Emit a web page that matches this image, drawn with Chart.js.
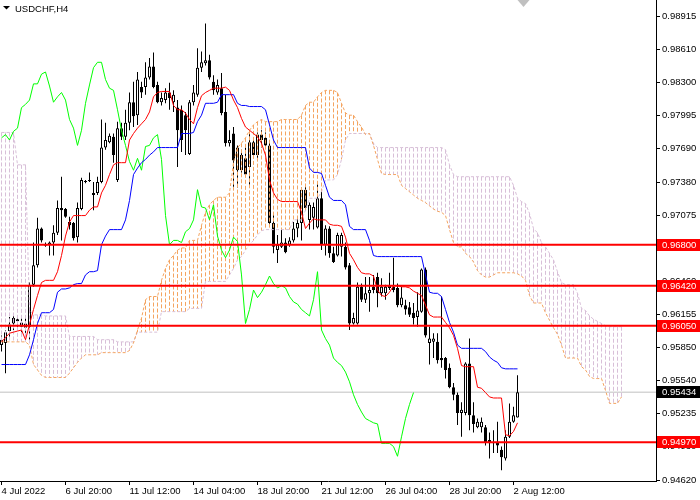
<!DOCTYPE html>
<html>
<head>
<meta charset="utf-8">
<title>USDCHF,H4</title>
<script src="https://cdn.jsdelivr.net/npm/chart.js@4.4.1/dist/chart.umd.min.js"></script>
<style>
  html, body { margin: 0; padding: 0; background: #ffffff; }
  canvas { display: block; }
</style>
</head>
<body>
<canvas id="chart" width="700" height="500"></canvas>
<script>
// --- datos (USDCHF, H4) ---
const symbolTitle = 'USDCHF,H4';

// etiquetas del eje X y la vela en la que cae cada una
const tickLabels = ['4 Jul 2022', '6 Jul 20:00', '11 Jul 12:00', '14 Jul 04:00', '18 Jul 20:00',
                    '21 Jul 12:00', '26 Jul 04:00', '28 Jul 20:00', '2 Aug 12:00'];
const tickBars = [0, 16, 32, 48, 64, 80, 96, 112, 128];

// etiquetas del eje de precios
const priceTicks = [0.98915, 0.98610, 0.98300, 0.97995, 0.97690, 0.97380, 0.97075, 0.96770,
                    0.96460, 0.96155, 0.95850, 0.95540, 0.95235, 0.94930, 0.94620];

// niveles horizontales (lineas rojas) y precio actual
const levels = [0.96800, 0.96420, 0.96050, 0.94970];
const bid = 0.95434;

// velas OHLC
const opens = [
  0.9587,0.9589,0.9600,0.9607,0.9609,0.9608,0.9607,0.9604,0.9643,0.9661,
  0.9695,0.9680,0.9680,0.9682,0.9691,0.9714,0.9713,0.9701,0.9700,0.9687,
  0.9713,0.9739,0.9739,0.9726,0.9728,0.9738,0.9770,0.9775,0.9780,0.9740,
  0.9788,0.9780,0.9793,0.9812,0.9800,0.9826,0.9826,0.9835,0.9845,0.9828,
  0.9812,0.9814,0.9821,0.9812,0.9807,0.9805,0.9800,0.9764,0.9812,0.9819,
  0.9844,0.9848,0.9851,0.9831,0.9821,0.9825,0.9803,0.9774,0.9783,0.9749,
  0.9749,0.9760,0.9752,0.9775,0.9763,0.9782,0.9779,0.9772,0.9700,0.9675,
  0.9678,0.9682,0.9680,0.9684,0.9695,0.9700,0.9731,0.9703,0.9705,0.9696,
  0.9723,0.9680,0.9695,0.9672,0.9670,0.9678,0.9678,0.9661,0.9607,0.9607,
  0.9641,0.9629,0.9635,0.9641,0.9650,0.9635,0.9635,0.9640,0.9641,0.9640,
  0.9624,0.9624,0.9622,0.9617,0.9613,0.9618,0.9657,0.9589,0.9590,0.9590,
  0.9575,0.9575,0.9566,0.9548,0.9541,0.9524,0.9524,0.9570,0.9522,0.9511,
  0.9511,0.9511,0.9499,0.9497,0.9497,0.9490,0.9482,0.9502,0.9516,0.9520
];
const highs = [
  0.9596,0.9601,0.9613,0.9615,0.9613,0.9612,0.9613,0.9645,0.9682,0.9705,
  0.9696,0.9682,0.9683,0.9698,0.9721,0.9743,0.9714,0.9706,0.9701,0.9719,
  0.9742,0.9740,0.9747,0.9738,0.9743,0.9796,0.9793,0.9783,0.9783,0.9794,
  0.9793,0.9805,0.9821,0.9831,0.9840,0.9831,0.9849,0.9853,0.9858,0.9831,
  0.9821,0.9825,0.9830,0.9823,0.9814,0.9809,0.9803,0.9814,0.9828,0.9862,
  0.9859,0.9885,0.9856,0.9837,0.9833,0.9839,0.9819,0.9786,0.9789,0.9772,
  0.9768,0.9770,0.9784,0.9779,0.9784,0.9786,0.9784,0.9777,0.9709,0.9689,
  0.9694,0.9686,0.9687,0.9701,0.9705,0.9733,0.9735,0.9719,0.9719,0.9737,
  0.9731,0.9698,0.9697,0.9678,0.9691,0.9691,0.9682,0.9663,0.9617,0.9645,
  0.9644,0.9650,0.9650,0.9652,0.9654,0.9649,0.9643,0.9654,0.9668,0.9644,
  0.9641,0.9629,0.9627,0.9626,0.9636,0.9658,0.9659,0.9604,0.9598,0.9598,
  0.9632,0.9576,0.9570,0.9552,0.9543,0.9534,0.9571,0.9593,0.9534,0.9519,
  0.9520,0.9513,0.9506,0.9508,0.9516,0.9493,0.9508,0.9533,0.9530,0.9559
];
const lows = [
  0.9581,0.9561,0.9592,0.9601,0.9603,0.9599,0.9598,0.9592,0.9641,0.9659,
  0.9682,0.9678,0.9670,0.9670,0.9689,0.9684,0.9705,0.9694,0.9684,0.9682,
  0.9712,0.9737,0.9738,0.9712,0.9726,0.9737,0.9768,0.9774,0.9756,0.9738,
  0.9777,0.9777,0.9786,0.9789,0.9791,0.9816,0.9819,0.9833,0.9825,0.9811,
  0.9809,0.9811,0.9805,0.9803,0.9752,0.9766,0.9763,0.9763,0.9809,0.9817,
  0.9840,0.9846,0.9833,0.9819,0.9819,0.9800,0.9771,0.9771,0.9733,0.9733,
  0.9747,0.9743,0.9733,0.9761,0.9760,0.9770,0.9770,0.9698,0.9672,0.9663,
  0.9677,0.9672,0.9678,0.9682,0.9687,0.9684,0.9712,0.9694,0.9694,0.9695,
  0.9675,0.9670,0.9668,0.9663,0.9669,0.9669,0.9657,0.9601,0.9606,0.9606,
  0.9627,0.9626,0.9618,0.9635,0.9622,0.9632,0.9629,0.9638,0.9636,0.9622,
  0.9622,0.9615,0.9613,0.9606,0.9604,0.9617,0.9594,0.9569,0.9575,0.9570,
  0.9566,0.9556,0.9547,0.9536,0.9513,0.9502,0.9522,0.9508,0.9506,0.9510,
  0.9506,0.9494,0.9482,0.9487,0.9487,0.9471,0.9480,0.9501,0.9515,0.9520
];
const closes = [
  0.9592,0.9599,0.9606,0.9612,0.9611,0.9604,0.9603,0.9643,0.9661,0.9695,
  0.9684,0.9679,0.9682,0.9691,0.9714,0.9712,0.9706,0.9698,0.9686,0.9714,
  0.9740,0.9738,0.9739,0.9728,0.9738,0.9770,0.9777,0.9781,0.9763,0.9788,
  0.9780,0.9793,0.9812,0.9799,0.9833,0.9821,0.9835,0.9845,0.9826,0.9812,
  0.9816,0.9821,0.9816,0.9819,0.9786,0.9777,0.9786,0.9812,0.9821,0.9844,
  0.9849,0.9851,0.9835,0.9823,0.9828,0.9802,0.9774,0.9777,0.9758,0.9770,
  0.9763,0.9745,0.9775,0.9763,0.9782,0.9777,0.9772,0.9700,0.9678,0.9680,
  0.9682,0.9673,0.9684,0.9695,0.9700,0.9731,0.9714,0.9717,0.9715,0.9723,
  0.9680,0.9695,0.9672,0.9664,0.9689,0.9689,0.9659,0.9607,0.9612,0.9641,
  0.9629,0.9635,0.9638,0.9638,0.9635,0.9641,0.9641,0.9642,0.9638,0.9624,
  0.9631,0.9620,0.9615,0.9612,0.9619,0.9657,0.9596,0.9593,0.9593,0.9573,
  0.9573,0.9564,0.9548,0.9541,0.9524,0.9527,0.9570,0.9522,0.9514,0.9516,
  0.9516,0.9497,0.9496,0.9496,0.9494,0.9483,0.9502,0.9516,0.9522,0.95434
];

// Ichimoku: Tenkan (rojo), Kijun (azul), Chikou (verde)
const tenkan = [
  0.9590,0.9594,0.9598,0.9599,0.9600,0.9601,0.9592,0.9606,0.9620,0.9633,
  0.9645,0.9647,0.9647,0.9647,0.9655,0.9670,0.9688,0.9701,0.9707,0.9707,
  0.9707,0.9707,0.9712,0.9715,0.9715,0.9728,0.9735,0.9745,0.9754,0.9756,
  0.9756,0.9756,0.9777,0.9783,0.9788,0.9792,0.9796,0.9803,0.9817,0.9821,
  0.9822,0.9822,0.9822,0.9809,0.9805,0.9805,0.9802,0.9796,0.9792,0.9807,
  0.9818,0.9821,0.9823,0.9825,0.9825,0.9825,0.9826,0.9823,0.9814,0.9807,
  0.9797,0.9789,0.9786,0.9783,0.9780,0.9774,0.9763,0.9740,0.9728,0.9722,
  0.9720,0.9720,0.9720,0.9720,0.9720,0.9710,0.9695,0.9700,0.9704,0.9703,
  0.9703,0.9703,0.9699,0.9698,0.9698,0.9697,0.9687,0.9672,0.9666,0.9659,
  0.9654,0.9653,0.9653,0.9651,0.9638,0.9633,0.9632,0.9636,0.9642,0.9642,
  0.9641,0.9641,0.9640,0.9637,0.9635,0.9633,0.9624,0.9615,0.9613,0.9613,
  0.9613,0.9608,0.9603,0.9596,0.9584,0.9568,0.9567,0.9567,0.9567,0.9548,
  0.9547,0.9543,0.9539,0.9538,0.9538,0.9538,0.9504,0.9503,0.9507,0.9515
];
const kijun = [
  0.9569,0.9569,0.9569,0.9569,0.9569,0.9569,0.9569,0.9578,0.9592,0.9607,
  0.9617,0.9617,0.9617,0.9620,0.9636,0.9639,0.9639,0.9640,0.9643,0.9644,
  0.9644,0.9652,0.9655,0.9655,0.9656,0.9680,0.9688,0.9694,0.9694,0.9694,
  0.9694,0.9703,0.9721,0.9745,0.9751,0.9756,0.9759,0.9763,0.9766,0.9770,
  0.9770,0.9770,0.9770,0.9770,0.9770,0.9783,0.9783,0.9783,0.9784,0.9794,
  0.9800,0.9811,0.9811,0.9811,0.9812,0.9819,0.9819,0.9819,0.9819,0.9811,
  0.9809,0.9809,0.9808,0.9808,0.9808,0.9808,0.9805,0.9791,0.9777,0.9770,
  0.9770,0.9770,0.9770,0.9770,0.9770,0.9770,0.9770,0.9751,0.9747,0.9747,
  0.9746,0.9735,0.9724,0.9721,0.9721,0.9721,0.9717,0.9697,0.9694,0.9694,
  0.9694,0.9694,0.9684,0.9670,0.9669,0.9669,0.9669,0.9669,0.9669,0.9669,
  0.9669,0.9669,0.9669,0.9669,0.9669,0.9669,0.9652,0.9636,0.9635,0.9635,
  0.9632,0.9620,0.9608,0.9599,0.9587,0.9584,0.9584,0.9584,0.9584,0.9584,
  0.9584,0.9581,0.9576,0.9573,0.9571,0.9566,0.9565,0.9565,0.9565,0.9565
];
const chikou = [
  0.9779,0.9782,0.9777,0.9785,0.9788,0.9807,0.9810,0.9814,0.9829,0.9829,
  0.9838,0.9840,0.9827,0.9812,0.9817,0.9821,0.9814,0.9796,0.9788,0.9772,
  0.9786,0.9811,0.9828,0.9844,0.9849,0.9849,0.9833,0.9825,0.9823,0.9805,
  0.9786,0.9772,0.9757,0.9749,0.9760,0.9749,0.9771,0.9772,0.9779,0.9782,
  0.9759,0.9707,0.9680,0.9684,0.9684,0.9682,0.9692,0.9695,0.9703,0.9731,
  0.9715,0.9714,0.9703,0.9717,0.9688,0.9675,0.9668,0.9675,0.9687,0.9683,
  0.9652,0.9607,0.9620,0.9638,0.9631,0.9636,0.9643,0.9651,0.9644,0.9640,
  0.9642,0.9640,0.9632,0.9627,0.9625,0.9620,0.9617,0.9614,0.9629,0.9655,
  0.9601,0.9593,0.9587,0.9575,0.9571,0.9568,0.9562,0.9553,0.9541,0.9532,
  0.9525,0.9519,0.9517,0.9515,0.9514,0.9496,0.9496,0.9496,0.9493,0.9484,
  0.9502,0.9519,0.9532,0.9543
];

// nube: Senkou Span A (naranja) y Span B (cardo), 26 velas hacia adelante
const spanA = [
  0.9590,0.9590,0.9590,0.9590,0.9590,0.9590,0.9590,0.9587,0.9569,0.9564,
  0.9559,0.9557,0.9557,0.9557,0.9557,0.9557,0.9557,0.9561,0.9566,0.9571,
  0.9575,0.9578,0.9578,0.9578,0.9578,0.9580,0.9580,0.9580,0.9580,0.9580,
  0.9580,0.9580,0.9582,0.9589,0.9601,0.9612,0.9629,0.9632,0.9632,0.9632,
  0.9647,0.9658,0.9666,0.9670,0.9675,0.9677,0.9677,0.9684,0.9684,0.9684,
  0.9698,0.9710,0.9717,0.9721,0.9724,0.9724,0.9724,0.9728,0.9756,0.9770,
  0.9774,0.9779,0.9786,0.9791,0.9794,0.9796,0.9794,0.9794,0.9794,0.9794,
  0.9796,0.9796,0.9796,0.9796,0.9796,0.9800,0.9809,0.9812,0.9812,0.9817,
  0.9821,0.9823,0.9823,0.9823,0.9821,0.9811,0.9802,0.9800,0.9800,0.9794,
  0.9789,0.9782,0.9783,0.9772,0.9759,0.9746,0.9745,0.9745,0.9745,0.9745,
  0.9735,0.9732,0.9729,0.9726,0.9723,0.9721,0.9719,0.9716,0.9713,0.9711,
  0.9710,0.9707,0.9694,0.9682,0.9678,0.9678,0.9672,0.9669,0.9664,0.9656,
  0.9652,0.9650,0.9650,0.9652,0.9654,0.9654,0.9654,0.9654,0.9654,0.9653,
  0.9651,0.9647,0.9633,0.9626,0.9626,0.9626,0.9617,0.9610,0.9603,0.9597,
  0.9587,0.9575,0.9575,0.9575,0.9575,0.9567,0.9564,0.9558,0.9556,0.9556,
  0.9556,0.9545,0.9533,0.9533,0.9533,0.9539
];
const spanB = [
  0.9784,0.9784,0.9784,0.9784,0.9754,0.9754,0.9754,0.9620,0.9615,0.9615,
  0.9615,0.9614,0.9614,0.9614,0.9614,0.9614,0.9614,0.9595,0.9595,0.9595,
  0.9595,0.9595,0.9595,0.9595,0.9592,0.9592,0.9592,0.9592,0.9592,0.9590,
  0.9590,0.9590,0.9590,0.9590,0.9599,0.9599,0.9599,0.9599,0.9599,0.9599,
  0.9618,0.9618,0.9618,0.9618,0.9618,0.9618,0.9618,0.9621,0.9621,0.9621,
  0.9621,0.9646,0.9646,0.9646,0.9646,0.9646,0.9646,0.9652,0.9658,0.9666,
  0.9669,0.9675,0.9680,0.9684,0.9689,0.9693,0.9694,0.9694,0.9694,0.9694,
  0.9694,0.9694,0.9694,0.9703,0.9703,0.9703,0.9712,0.9723,0.9723,0.9723,
  0.9729,0.9740,0.9740,0.9740,0.9745,0.9759,0.9777,0.9783,0.9783,0.9783,
  0.9783,0.9783,0.9783,0.9774,0.9770,0.9770,0.9770,0.9770,0.9770,0.9770,
  0.9770,0.9770,0.9770,0.9770,0.9770,0.9770,0.9770,0.9770,0.9770,0.9770,
  0.9770,0.9768,0.9754,0.9745,0.9743,0.9743,0.9743,0.9743,0.9743,0.9743,
  0.9743,0.9743,0.9743,0.9743,0.9743,0.9743,0.9743,0.9743,0.9735,0.9723,
  0.9720,0.9718,0.9709,0.9695,0.9691,0.9682,0.9678,0.9672,0.9666,0.9655,
  0.9645,0.9643,0.9643,0.9643,0.9635,0.9621,0.9619,0.9614,0.9611,0.9609,
  0.9607,0.9605,0.9604,0.9604,0.9604,0.9604
];

// rango visible: 164 velas de 4 px; el medio pixel deja las lineas de 1 px nitidas
const xMin = -0.375;
const xMax = 163.625;
const yMin = 0.94611;
const yMax = 0.99067;
const shiftBar = 130.5;   // marcador gris de desplazamiento del grafico

// colores estilo MT4
const COLOR_TENKAN = '#FF0000';
const COLOR_KIJUN = '#0000FF';
const COLOR_CHIKOU = '#00FF00';
const COLOR_SPAN_A = '#F4A460';
const COLOR_SPAN_B = '#D8BFD8';
const FONT = 'Liberation Sans';

const ctx = document.getElementById('chart').getContext('2d');

// --- armar los datasets a partir de los arreglos ---
const wickData = opens.map((o, i) => ({ x: i, y: [lows[i], highs[i]] }));
const bullData = [];
const bearData = [];
opens.forEach((o, i) => {
  const d = { x: i, y: [o, closes[i]] };
  if (closes[i] >= o) bullData.push(d); else bearData.push(d);
});

// columnas punteadas de la nube: de Span A a Span B en cada vela, cortadas con null
function cloudColumns(up) {
  const pts = [];
  spanA.forEach((a, i) => {
    const b = spanB[i];
    if (a === b || (a > b) !== up) return;
    pts.push({ x: i, y: Math.max(a, b) }, { x: i, y: Math.min(a, b) }, { x: i, y: null });
  });
  return pts;
}

const toPoints = arr => arr.map((v, i) => ({ x: i, y: v }));

function lineSet(data, color, order, extra) {
  return Object.assign({
    type: 'line', data: data, borderColor: color, backgroundColor: color,
    borderWidth: 1, pointRadius: 0, tension: 0, fill: false, spanGaps: false, order: order
  }, extra || {});
}

function barSet(data, order, extra) {
  return Object.assign({
    type: 'bar', data: data, grouped: false, inflateAmount: 0,
    borderWidth: 0, order: order
  }, extra || {});
}

const datasets = [
  // lineas horizontales rojas (encima de todo)
  ...levels.map(lv => lineSet([{ x: xMin, y: lv }, { x: xMax, y: lv }], '#FF0000', 0, { borderWidth: 2 })),
  lineSet(toPoints(tenkan), COLOR_TENKAN, 1),
  lineSet(toPoints(kijun), COLOR_KIJUN, 1),
  lineSet(toPoints(chikou), COLOR_CHIKOU, 1),
  lineSet(toPoints(spanA), COLOR_SPAN_A, 2, { borderDash: [3, 2] }),
  lineSet(toPoints(spanB), COLOR_SPAN_B, 2, { borderDash: [3, 2] }),
  lineSet(cloudColumns(true), COLOR_SPAN_A, 3, { borderDash: [4, 2] }),
  lineSet(cloudColumns(false), COLOR_SPAN_B, 3, { borderDash: [4, 2] }),
  barSet(bullData, 4, { barThickness: 3, backgroundColor: '#FFFFFF', borderColor: '#000000',
                        borderWidth: 1, borderSkipped: false, minBarLength: 1 }),
  barSet(bearData, 4, { barThickness: 3, backgroundColor: '#000000', borderColor: '#000000',
                        borderWidth: 1, borderSkipped: false, minBarLength: 1 }),
  barSet(wickData, 5, { barThickness: 1, backgroundColor: '#000000', borderColor: '#000000' }),
  lineSet([{ x: xMin, y: bid }, { x: xMax, y: bid }], '#C0C0C0', 6)
];

// etiquetas de precio, titulo y marcador (se dibujan al final)
const mt4Overlay = {
  id: 'mt4Overlay',
  afterDraw(chart) {
    const { ctx, chartArea, scales } = chart;
    const y = scales.y;
    const x = scales.x;
    ctx.save();
    ctx.font = '9.5px "' + FONT + '"';
    ctx.textBaseline = 'middle';
    ctx.textAlign = 'left';
    const boxLeft = chartArea.right + 1;
    const tags = levels.map(v => ({ v: v, bg: '#FF0000' })).concat([{ v: bid, bg: '#000000' }]);
    tags.forEach(t => {
      const py = Math.round(y.getPixelForValue(t.v));
      ctx.fillStyle = t.bg;
      ctx.fillRect(boxLeft, py - 6, chart.width - boxLeft, 12);
      ctx.fillStyle = '#FFFFFF';
      ctx.fillText(t.v.toFixed(5), chartArea.right + 6, py + 0.5);
    });

    // titulo con triangulito
    ctx.fillStyle = '#000000';
    ctx.beginPath();
    ctx.moveTo(3, 6);
    ctx.lineTo(10, 6);
    ctx.lineTo(6.5, 9.5);
    ctx.closePath();
    ctx.fill();
    ctx.textBaseline = 'alphabetic';
    ctx.fillText(symbolTitle, 15, 12);

    // marcador de desplazamiento
    const sx = x.getPixelForValue(shiftBar);
    ctx.fillStyle = '#C0C0C0';
    ctx.beginPath();
    ctx.moveTo(sx - 6, 0);
    ctx.lineTo(sx + 6, 0);
    ctx.lineTo(sx, 7);
    ctx.closePath();
    ctx.fill();
    ctx.restore();
  }
};

const axisGrid = {
  display: true, drawOnChartArea: false, drawTicks: true,
  tickLength: 4, color: '#000000', offset: false
};

new Chart(ctx, {
  type: 'bar',
  data: { datasets: datasets },
  options: {
    responsive: false,
    animation: false,
    devicePixelRatio: 1,
    events: [],
    layout: { padding: 0 },
    plugins: {
      legend: { display: false },
      tooltip: { enabled: false },
      title: { display: false }
    },
    scales: {
      x: {
        type: 'linear',
        min: xMin,
        max: xMax,
        offset: false,
        grid: axisGrid,
        border: { display: true, color: '#000000', width: 1 },
        ticks: {
          autoSkip: false, maxRotation: 0, minRotation: 0, align: 'start',
          padding: 1, color: '#000000', font: { family: FONT, size: 9.5 },
          callback: (v, i) => tickLabels[i]
        },
        afterBuildTicks: s => { s.ticks = tickBars.map(b => ({ value: b })); },
        afterFit: s => { s.height = 19; s.paddingLeft = 0; s.paddingRight = 0; }
      },
      y: {
        type: 'linear',
        position: 'right',
        min: yMin,
        max: yMax,
        grid: axisGrid,
        border: { display: true, color: '#000000', width: 1 },
        ticks: {
          autoSkip: false, padding: 2, color: '#000000',
          font: { family: FONT, size: 9.5 },
          callback: v => v.toFixed(5)
        },
        afterBuildTicks: s => { s.ticks = priceTicks.map(p => ({ value: p })); },
        afterFit: s => { s.width = 44; s.paddingTop = 0; s.paddingBottom = 0; }
      }
    }
  },
  plugins: [mt4Overlay]
});
</script>
</body>
</html>
